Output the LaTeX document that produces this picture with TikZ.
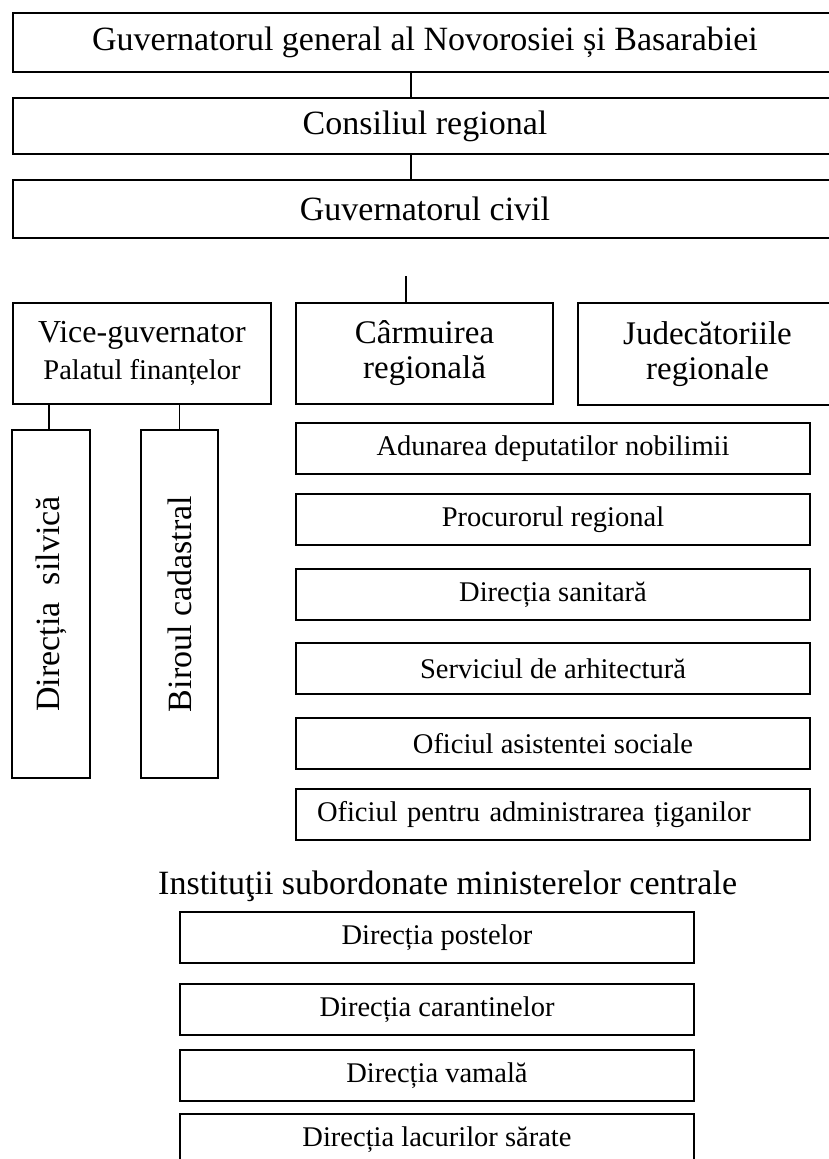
\documentclass[tikz,border=0pt]{standalone}
\usepackage{fontspec}
\setmainfont{Liberation Serif}

\tikzset{
  box/.style={draw, line width=2pt, inner sep=0pt, anchor=north west, align=center},
  big/.style={font=\fontsize{34}{38}\selectfont},
  small/.style={font=\fontsize{28.5}{32}\selectfont}
}

\begin{document}
\begin{tikzpicture}[x=1pt, y=-1pt]
  \useasboundingbox (0,0) rectangle (829,1159);
  % top chain
  \node[box, big, minimum width=824, minimum height=59] (gen) at (12,12)
    {Guvernatorul general al Novorosiei și Basarabiei};
  \node[box, big, minimum width=824, minimum height=56] (cons) at (12,97)
    {Consiliul regional};
  \node[box, big, minimum width=824, minimum height=58] (civ) at (12,179)
    {Guvernatorul civil};
  \coordinate (spine) at (411,0);
  \draw[line width=1.4pt] (gen.south -| spine) -- (cons.north -| spine);
  \draw[line width=1.4pt] (cons.south -| spine) -- (civ.north -| spine);

  % second row
  \node[box, font=\fontsize{32}{37}\selectfont, minimum width=258, minimum height=101] (vice) at (12,302)
    {Vice-guvernator\\{\fontsize{28.5}{37}\selectfont Palatul finanțelor}};
  \node[box, font=\fontsize{33}{35}\selectfont, minimum width=257, minimum height=101] (carm) at (295,302)
    {Cârmuirea\\regională};
  \node[box, font=\fontsize{33}{35}\selectfont, minimum width=259, minimum height=102] (jud) at (577,302)
    {Judecătoriile\\regionale};
  \coordinate (stub) at (406,276);
  \draw[line width=1.4pt] (stub) -- (stub |- carm.north);

  % vertical boxes under the vice-governor
  \node[draw, line width=2pt, big, inner sep=0pt, rotate=90,
    minimum width=348, minimum height=78] (silv) at (51,604) {Direcția\ \ silvică};
  \node[draw, line width=2pt, big, inner sep=0pt, rotate=90,
    minimum width=348, minimum height=77] (bir) at (179.5,604) {Biroul cadastral};
  \draw[line width=1.4pt] (vice.south -| 49,0) -- (silv.east -| 49,0);
  \draw[line width=1.4pt] (vice.south -| bir.east) -- (bir.east);

  % right column
  \foreach \y/\name/\txt in {422/adun/Adunarea deputatilor nobilimii,
      493/proc/Procurorul regional, 568/san/Direcția sanitară,
      642/arh/Serviciul de arhitectură, 717/asist/Oficiul asistentei sociale}
    \node[box, small, minimum width=514, minimum height=51] (\name) at (295,\y) {\txt};
  \node[box, small, minimum width=514, minimum height=51, inner xsep=21pt,
    text width=472, align=left] (tig) at (295,788)
    {Oficiul pentru administrarea țiganilor};

  % central institutions
  \node[big, inner sep=0pt] (inst) at (447.6,886) {Instituţii subordonate ministerelor centrale};
  \foreach \y/\name/\txt in {911/post/Direcția postelor, 983/car/Direcția carantinelor,
      1049/vam/Direcția vamală, 1113/lac/Direcția lacurilor sărate}
    \node[box, small, minimum width=514, minimum height=51] (\name) at (179,\y) {\txt};
\end{tikzpicture}
\end{document}
